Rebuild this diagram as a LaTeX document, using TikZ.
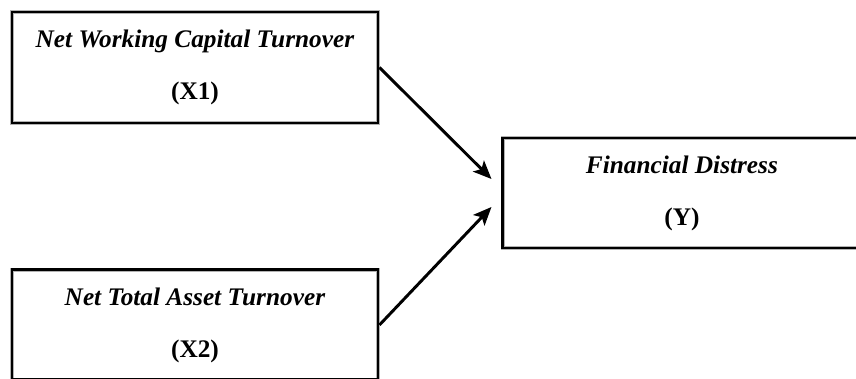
\documentclass[tikz,border=0pt]{standalone}
\usepackage{fontspec}
\setmainfont{Liberation Serif}
\usetikzlibrary{arrows.meta, positioning}

\begin{document}
\begin{tikzpicture}[
    node distance=3.6cm,
    every node/.style={font=\fontsize{18}{22}\selectfont\bfseries},
    box/.style={rectangle, draw, line width=2.1pt, minimum width=9.15cm, minimum height=2.775cm, align=center, inner sep=0pt, preaction={draw=black!30, line width=3.4pt}},
    arrow/.style={->, >={Stealth[length=13pt, width=11pt, inset=3pt]}, line width=2.1pt}
]
\useasboundingbox (-4.875,1.6875) rectangle (16.525,-7.7875);
\node (x1) [box] {\textit{Net Working Capital Turnover} \\[15pt] (X1)};
\node (x2) [box, below=3.6cm of x1, minimum height=2.75cm] {\textit{Net Total Asset Turnover} \\[15pt] (X2)};
\node (y) [box, right=3.05cm of x1, yshift=-3.1375cm, minimum width=8.95cm, minimum height=2.75cm] {\textit{Financial Distress} \\[15pt] (Y)};
\draw [arrow] (x1.east) -- ([xshift=-0.25cm, yshift=0.35cm]y.west);
\draw [arrow] (x2.east) -- ([xshift=-0.25cm, yshift=-0.35cm]y.west);
\end{tikzpicture}
\end{document}
